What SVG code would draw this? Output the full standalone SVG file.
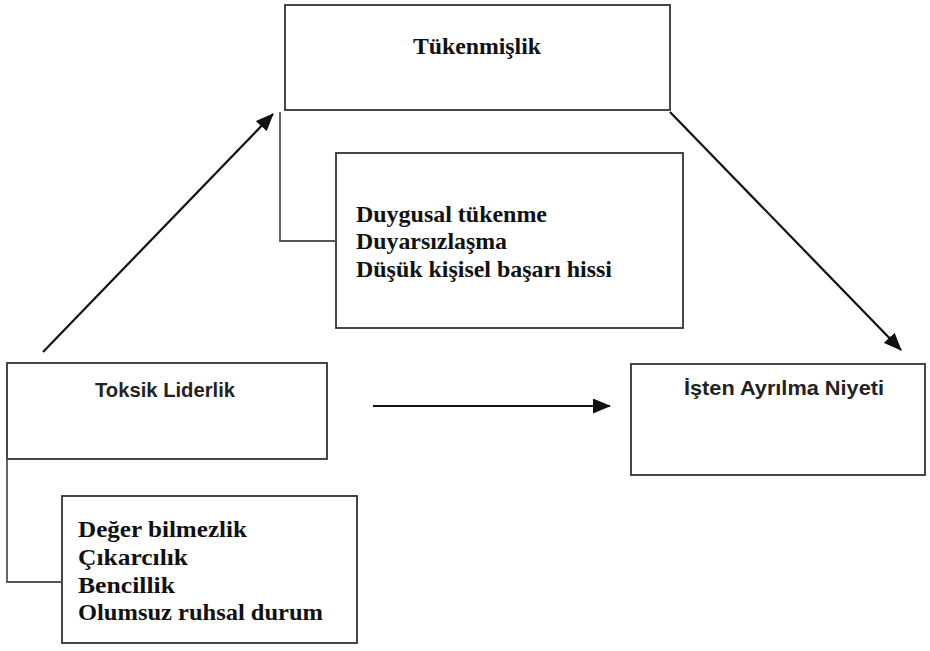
<svg xmlns="http://www.w3.org/2000/svg" width="930" height="651" viewBox="0 0 930 651">
<style>
.box{fill:#fff;stroke:#333;stroke-width:1.8}
.br{fill:none;stroke:#555;stroke-width:1.8}
.con{fill:none;stroke:#111;stroke-width:2.2}
.serif{font-family:"Liberation Serif","Times New Roman",serif;font-weight:bold;font-size:24px;fill:#111}
.sans{font-family:"Liberation Sans",Arial,sans-serif;font-weight:bold;font-size:21px;fill:#222}
</style>
<defs>
<marker id="ah" markerUnits="userSpaceOnUse" markerWidth="18" markerHeight="15" refX="17" refY="7.5" orient="auto">
<path d="M0,0 L18,7.5 L0,15 Z" fill="#111"/>
</marker>
</defs>
<rect width="930" height="651" fill="#fff"/>
<g id="tukenmislik">
<rect class="box" x="285" y="5" width="385" height="105"/>
<text class="serif" x="477" y="54" text-anchor="middle" textLength="128" lengthAdjust="spacingAndGlyphs">Tükenmişlik</text>
</g>
<g id="tukenmislik-boyutlar">
<rect class="box" x="336" y="153" width="347" height="175"/>
<text class="serif" x="356" y="222" textLength="191" lengthAdjust="spacingAndGlyphs">Duygusal tükenme</text>
<text class="serif" x="356" y="249" textLength="151" lengthAdjust="spacingAndGlyphs">Duyarsızlaşma</text>
<text class="serif" x="356" y="277" textLength="256" lengthAdjust="spacingAndGlyphs">Düşük kişisel başarı hissi</text>
</g>
<g id="toksik">
<rect class="box" x="7" y="363" width="320" height="96"/>
<text class="sans" x="165" y="397" text-anchor="middle" textLength="140" lengthAdjust="spacingAndGlyphs">Toksik Liderlik</text>
</g>
<g id="toksik-boyutlar">
<rect class="box" x="62" y="496" width="295" height="147"/>
<text class="serif" x="78" y="537" textLength="169" lengthAdjust="spacingAndGlyphs">Değer bilmezlik</text>
<text class="serif" x="78" y="565" textLength="110" lengthAdjust="spacingAndGlyphs">Çıkarcılık</text>
<text class="serif" x="78" y="593" textLength="97" lengthAdjust="spacingAndGlyphs">Bencillik</text>
<text class="serif" x="78" y="620" textLength="245" lengthAdjust="spacingAndGlyphs">Olumsuz ruhsal durum</text>
</g>
<g id="ayrilma">
<rect class="box" x="631" y="364" width="294" height="111"/>
<text class="sans" x="784" y="395" text-anchor="middle" textLength="200" lengthAdjust="spacingAndGlyphs">İşten Ayrılma Niyeti</text>
</g>
<g id="connectors">
<path class="br" d="M280,112 V241 H336"/>
<path class="br" d="M7,459 V582 H62"/>
<line class="con" x1="43" y1="352" x2="273" y2="114" marker-end="url(#ah)"/>
<line class="con" x1="670" y1="112" x2="901" y2="350" marker-end="url(#ah)"/>
<line class="con" x1="373" y1="406" x2="610" y2="406" marker-end="url(#ah)"/>
</g>
</svg>
